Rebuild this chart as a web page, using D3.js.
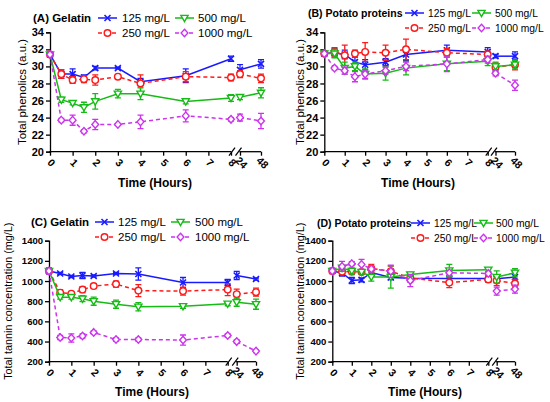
<!DOCTYPE html>
<html>
<head>
<meta charset="utf-8">
<script src="https://cdn.jsdelivr.net/npm/d3@7"></script>
<style>
  body { margin: 0; background: #fff; }
  text { font-family: "Liberation Sans", Arial, sans-serif; }
</style>
</head>
<body>
<div id="chart-area"></div>
<script>
// SVG size
var width = 550,
    height = 402;

// sampling times (hours)
var times = [0, 0.5, 1, 1.5, 2, 3, 4, 6, 8, 24, 48];
var seriesNames = ["125 mg/L", "250 mg/L", "500 mg/L", "1000 mg/L"];
var phenolTicks = [20, 22, 24, 26, 28, 30, 32, 34];
var tanninTicks = [200, 400, 600, 800, 1000, 1200, 1400];
var timeTicks = [0, 1, 2, 3, 4, 5, 6, 7, 8, 24, 48];

// (A) Gelatin - total phenolics
var phenGel125 = [31.4, 29.1, 29.1, 28.7, 29.8, 29.8, 28.2, 28.9, 30.9, 29.6, 30.3];
var phenGel125Err = [0.2, 0.5, 0.6, 0.3, 0.2, 0.1, 0.4, 0.8, 0.3, 0.6, 0.5];
var phenGel250 = [31.4, 29.1, 28.4, 28.5, 28.4, 28.8, 28.0, 28.8, 28.7, 29.1, 28.6];
var phenGel250Err = [0.2, 0.5, 0.4, 0.4, 0.6, 0.2, 1.0, 0.6, 0.4, 0.4, 0.5];
var phenGel500 = [31.4, 26.1, 25.7, 25.2, 25.9, 26.8, 26.8, 25.9, 26.3, 26.4, 26.9];
var phenGel500Err = [0.2, 0.3, 0.2, 0.6, 0.9, 0.5, 0.7, 0.3, 0.4, 0.3, 0.6];
var phenGel1000 = [31.4, 23.7, 23.7, 22.4, 23.2, 23.2, 23.5, 24.2, 23.8, 24.0, 23.6];
var phenGel1000Err = [0.2, 0.2, 0.6, 0.2, 0.6, 0.1, 0.8, 0.7, 0.2, 0.4, 0.9];

// (B) Potato proteins - total phenolics
var phenPot125 = [31.5, 31.6, 31.4, 30.5, 30.2, 30.5, 31.4, 31.9, 31.7, 31.2, 31.2];
var phenPot125Err = [0.2, 0.5, 0.5, 0.6, 0.6, 0.4, 0.7, 0.6, 0.5, 0.2, 0.5];
var phenPot250 = [31.5, 31.7, 31.3, 31.5, 31.7, 31.6, 32.0, 31.6, 31.4, 29.9, 30.2];
var phenPot250Err = [0.2, 0.5, 1.2, 0.4, 1.1, 0.9, 1.2, 0.5, 0.4, 0.5, 0.6];
var phenPot500 = [31.5, 31.5, 29.8, 30.0, 29.1, 29.2, 29.8, 30.3, 30.6, 30.0, 30.2];
var phenPot500Err = [0.2, 0.5, 0.7, 0.5, 0.6, 0.8, 0.8, 0.8, 0.5, 0.5, 0.5];
var phenPot1000 = [31.5, 29.8, 29.5, 28.8, 29.1, 29.5, 30.0, 30.3, 30.8, 29.2, 27.8];
var phenPot1000Err = [0.2, 0.2, 0.4, 0.6, 0.5, 0.4, 0.5, 0.9, 0.4, 0.3, 0.6];

// (C) Gelatin - total tannin
var tanGel125 = [1100, 1075, 1045, 1055, 1050, 1075, 1070, 985, 985, 1055, 1020];
var tanGel125Err = [30, 10, 10, 30, 10, 10, 60, 50, 30, 40, 10];
var tanGel250 = [1100, 885, 875, 915, 950, 970, 905, 900, 915, 870, 890];
var tanGel250Err = [30, 30, 20, 30, 20, 30, 60, 40, 60, 50, 40];
var tanGel500 = [1100, 840, 840, 825, 800, 770, 745, 750, 775, 790, 770];
var tanGel500Err = [30, 20, 20, 30, 40, 40, 40, 20, 20, 40, 50];
var tanGel1000 = [1100, 440, 435, 455, 490, 420, 420, 415, 460, 400, 305];
var tanGel1000Err = [30, 20, 40, 20, 15, 15, 15, 50, 15, 15, 15];

// (D) Potato proteins - total tannin
var tanPot125 = [1100, 1080, 1005, 1012, 1085, 1035, 1028, 1025, 1025, 1022, 1040];
var tanPot125Err = [20, 30, 30, 20, 40, 20, 20, 20, 20, 20, 60];
var tanPot250 = [1100, 1092, 1094, 1090, 1125, 1097, 1030, 985, 1016, 1005, 975];
var tanPot250Err = [20, 20, 30, 20, 40, 50, 40, 50, 30, 50, 40];
var tanPot500 = [1100, 1130, 1100, 1090, 1040, 1040, 1065, 1105, 1112, 1040, 1082];
var tanPot500Err = [20, 20, 30, 20, 40, 110, 20, 60, 20, 60, 40];
var tanPot1000 = [1100, 1145, 1172, 1165, 1120, 1097, 1005, 1082, 1075, 900, 920];
var tanPot1000Err = [20, 50, 20, 50, 30, 60, 60, 20, 20, 40, 40];

var colors = ["#1a1aff", "#ff1a1a", "#16bb16", "#cc33ee"];
var dashes = [null, "4,3", null, "4,3"];
var shapes = ["x", "circle", "triDown", "diamond"];
// legend slot of each series: [column, row]
var legendSlots = [[0, 0], [0, 1], [1, 0], [1, 1]];

// panel layout
var panels = [
  { id: "A", title: "(A) Gelatin", tx: 33, ty: 18, tSize: 11.5, legSize: 11.5,
    series: [[phenGel125, phenGel125Err], [phenGel250, phenGel250Err], [phenGel500, phenGel500Err], [phenGel1000, phenGel1000Err]],
    xr: [50, 231, 240, 261], yr: [151.7, 32.3], yd: [20, 34], yTicks: phenolTicks, yFont: 11,
    yTitle: "Total phenolics (a.u.)", yTitleX: 22, yTitleSize: 11.5,
    leg: [98, 175], legText: [122, 198], legY: [18, 33], xTitleX: 155, xTitleY: 187 },
  { id: "B", title: "(B) Potato proteins", tx: 308, ty: 13, tSize: 10.5, legSize: 10.3,
    series: [[phenPot125, phenPot125Err], [phenPot250, phenPot250Err], [phenPot500, phenPot500Err], [phenPot1000, phenPot1000Err]],
    xr: [324.3, 487.7, 495.5, 515], yr: [151.7, 32.3], yd: [20, 34], yTicks: phenolTicks, yFont: 11,
    yTitle: "Total phenolics (a.u.)", yTitleX: 300, yTitleSize: 11.5,
    leg: [405, 472], legText: [428, 495], legY: [13, 28], xTitleX: 418, xTitleY: 187 },
  { id: "C", title: "(C) Gelatin", tx: 31, ty: 222, tSize: 11.5, legSize: 11.5,
    series: [[tanGel125, tanGel125Err], [tanGel250, tanGel250Err], [tanGel500, tanGel500Err], [tanGel1000, tanGel1000Err]],
    xr: [49, 227.7, 236.7, 256], yr: [361.7, 240.7], yd: [200, 1400], yTicks: tanninTicks, yFont: 9.5,
    yTitle: "Total tannin concentration (mg/L)", yTitleX: 8, yTitleSize: 10.8,
    leg: [95, 171], legText: [118, 195], legY: [222, 237], xTitleX: 152, xTitleY: 396 },
  { id: "D", title: "(D) Potato proteins", tx: 317, ty: 223, tSize: 10.5, legSize: 10.3,
    series: [[tanPot125, tanPot125Err], [tanPot250, tanPot250Err], [tanPot500, tanPot500Err], [tanPot1000, tanPot1000Err]],
    xr: [332.3, 488.3, 496.7, 515], yr: [361.7, 240.7], yd: [200, 1400], yTicks: tanninTicks, yFont: 9.5,
    yTitle: "Total tannin concentration (mg/L)", yTitleX: 300, yTitleSize: 10.8,
    leg: [411, 474], legText: [434, 496], legY: [223, 238], xTitleX: 425, xTitleY: 396 }
];

var svg = d3.select("#chart-area").append("svg")
  .attr("width", width)
  .attr("height", height);

function marker(g, shape, cx, cy, color) {
  var m = g.append("g").attr("transform", "translate(" + cx + "," + cy + ")");
  if (shape == "x") {
    m.append("path").attr("d", "M-3,-3L3,3M-3,3L3,-3")
      .attr("stroke", color).attr("stroke-width", 1.6).attr("fill", "none");
  } else if (shape == "circle") {
    m.append("circle").attr("r", 3.3)
      .attr("stroke", color).attr("stroke-width", 1.4).attr("fill", "#fff");
  } else if (shape == "triDown") {
    m.append("path").attr("d", "M-3.6,-2.6L3.6,-2.6L0,3.6Z")
      .attr("stroke", color).attr("stroke-width", 1.4).attr("fill", "#fff");
  } else {
    m.append("path").attr("d", "M0,-3.8L3.4,0L0,3.8L-3.4,0Z")
      .attr("stroke", color).attr("stroke-width", 1.4).attr("fill", "#fff");
  }
}

panels.forEach(function(p) {
  var g = svg.append("g");

  var x = d3.scaleLinear().domain([0, 8, 24, 48]).range(p.xr);
  var y = d3.scaleLinear().domain(p.yd).range(p.yr);

  // y axis
  var yAxis = g.append("g")
    .attr("transform", "translate(" + p.xr[0] + ",0)")
    .call(d3.axisLeft(y).tickValues(p.yTicks).tickFormat(d3.format("d")).tickSize(4).tickPadding(2));
  yAxis.selectAll("path, line").attr("stroke", "#000").attr("stroke-width", 1.3);
  yAxis.selectAll("text").attr("font-size", p.yFont).attr("font-weight", "bold")
    .attr("font-family", "Liberation Sans, Arial, sans-serif").attr("fill", "#000");

  // x axis (broken between 8 and 24)
  var xAxis = g.append("g")
    .attr("transform", "translate(0," + p.yr[0] + ")")
    .call(d3.axisBottom(x).tickValues(timeTicks).tickSize(4));
  xAxis.select(".domain").remove();
  xAxis.selectAll("line").attr("stroke", "#000").attr("stroke-width", 1.3);
  xAxis.selectAll("text")
    .attr("font-size", 10.5).attr("font-weight", "bold")
    .attr("font-family", "Liberation Sans, Arial, sans-serif").attr("fill", "#000")
    .attr("y", 0).attr("dy", "0.35em")
    .attr("text-anchor", "middle")
    .attr("transform", "translate(1,11) rotate(45)");

  [[0, 8], [24, 48]].forEach(function(seg) {
    g.append("line")
      .attr("x1", x(seg[0]) - 0.6).attr("x2", x(seg[1]))
      .attr("y1", p.yr[0]).attr("y2", p.yr[0])
      .attr("stroke", "#000").attr("stroke-width", 1.3);
  });
  [x(8) + 1, x(24) - 1.5].forEach(function(bx) {
    g.append("line")
      .attr("x1", bx - 3).attr("x2", bx + 3)
      .attr("y1", p.yr[0] + 4).attr("y2", p.yr[0] - 4)
      .attr("stroke", "#000").attr("stroke-width", 1.2);
  });

  // series
  p.series.forEach(function(s, i) {
    var pts = times.map(function(t, k) { return { t: t, v: s[0][k], e: s[1][k] }; });
    var line = d3.line().x(function(d) { return x(d.t); }).y(function(d) { return y(d.v); });

    [pts.filter(function(d) { return d.t <= 8; }), pts.filter(function(d) { return d.t >= 24; })]
      .forEach(function(part) {
        g.append("path").datum(part)
          .attr("d", line)
          .attr("fill", "none")
          .attr("stroke", colors[i])
          .attr("stroke-width", 1.5)
          .attr("stroke-dasharray", dashes[i]);
      });

    pts.forEach(function(d) {
      var cx = x(d.t);
      g.append("path")
        .attr("d", "M" + cx + "," + y(d.v - d.e) + "V" + y(d.v + d.e) +
          "M" + (cx - 3) + "," + y(d.v - d.e) + "H" + (cx + 3) +
          "M" + (cx - 3) + "," + y(d.v + d.e) + "H" + (cx + 3))
        .attr("stroke", colors[i]).attr("stroke-width", 1.3).attr("fill", "none");
    });
    pts.forEach(function(d) {
      marker(g, shapes[i], x(d.t), y(d.v), colors[i]);
    });
  });

  // title and legend
  g.append("text").attr("x", p.tx).attr("y", p.ty).attr("dy", "0.35em")
    .attr("font-size", p.tSize).attr("font-weight", "bold").text(p.title);

  seriesNames.forEach(function(name, i) {
    var slot = legendSlots[i];
    var lx = p.leg[slot[0]];
    var ly = p.legY[slot[1]];
    g.append("line").attr("x1", lx).attr("x2", lx + 19).attr("y1", ly).attr("y2", ly)
      .attr("stroke", colors[i]).attr("stroke-width", 1.5).attr("stroke-dasharray", dashes[i]);
    marker(g, shapes[i], lx + 9.5, ly, colors[i]);
    g.append("text").attr("x", p.legText[slot[0]]).attr("y", ly).attr("dy", "0.35em")
      .attr("font-size", p.legSize).text(name);
  });

  // axis titles
  g.append("text")
    .attr("transform", "translate(" + p.yTitleX + "," + ((p.yr[0] + p.yr[1]) / 2) + ") rotate(-90)")
    .attr("text-anchor", "middle").attr("dy", "0.35em")
    .attr("font-size", p.yTitleSize)
    .text(p.yTitle);

  g.append("text").attr("x", p.xTitleX).attr("y", p.xTitleY)
    .attr("text-anchor", "middle").attr("font-size", 12).attr("font-weight", "bold")
    .text("Time (Hours)");
});
</script>
</body>
</html>
